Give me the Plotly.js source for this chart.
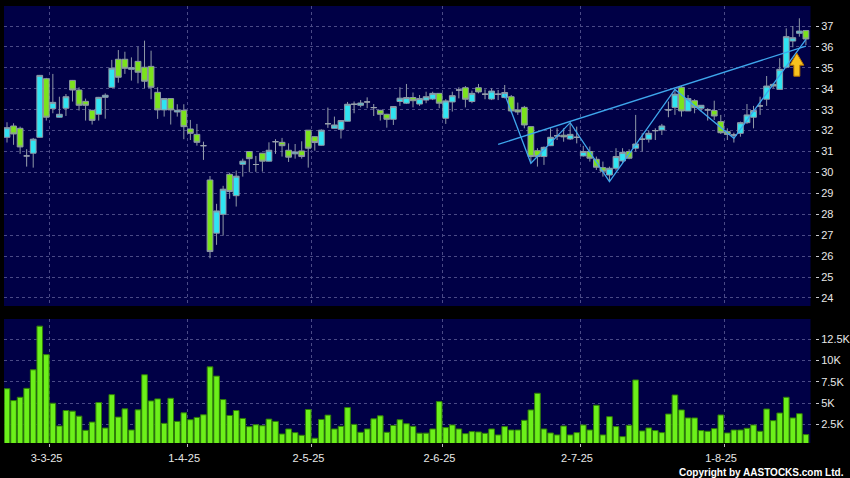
<!DOCTYPE html>
<html><head><meta charset="utf-8">
<script src="https://cdn.plot.ly/plotly-3.0.1.min.js"></script>
<style>html,body{margin:0;padding:0;background:#000;}#chart{width:850px;height:478px;}</style>
</head><body><div id="chart"></div>
<script>
// ---------- DATA (2025 trading days) ----------
const dates = [
"02-20","02-21","02-24","02-25","02-26","02-27","02-28",
"03-03","03-04","03-05","03-06","03-07","03-10","03-11","03-12","03-13","03-14","03-17","03-18","03-19","03-20","03-21","03-24","03-25","03-26","03-27","03-28","03-31",
"04-01","04-02","04-03","04-07","04-08","04-09","04-10","04-11","04-14","04-15","04-16","04-17","04-22","04-23","04-24","04-25","04-28","04-29","04-30",
"05-02","05-06","05-07","05-08","05-09","05-12","05-13","05-14","05-15","05-16","05-19","05-20","05-21","05-22","05-23","05-26","05-27","05-28","05-29","05-30",
"06-02","06-03","06-04","06-05","06-06","06-09","06-10","06-11","06-12","06-13","06-16","06-17","06-18","06-19","06-20","06-23","06-24","06-25","06-26","06-27","06-30",
"07-02","07-03","07-04","07-07","07-08","07-09","07-10","07-11","07-14","07-15","07-16","07-17","07-18","07-21","07-22","07-23","07-24","07-25","07-28","07-29","07-30","07-31",
"08-01","08-04","08-05","08-06","08-07","08-08","08-11","08-12","08-13","08-14","08-15","08-18","08-19"];

const openP = [31.68,32.22,32.11,30.79,30.92,31.68,34.48,33.05,32.64,33.07,34.40,33.94,33.40,32.97,32.78,33.59,34.07,35.41,35.41,34.93,
35.31,35.03,35.07,33.83,32.99,33.53,32.89,32.97,32.08,31.82,31.28,29.64,27.10,28.00,29.91,28.89,30.39,31.00,30.38,30.92,
30.54,31.47,31.44,31.06,30.89,31.03,32.02,31.71,31.30,32.33,32.11,32.06,32.45,33.26,33.21,33.37,33.10,32.97,32.78,32.54,
33.39,33.31,33.58,33.27,33.46,33.51,33.78,32.59,33.37,33.94,34.05,33.39,34.05,33.74,33.51,33.74,33.58,33.62,32.99,33.11,
32.19,31.04,30.76,31.28,31.75,31.78,31.60,31.68,30.79,31.00,30.63,30.23,29.88,30.20,30.55,31.00,31.16,31.59,31.59,32.00,
32.03,32.99,33.11,34.07,32.94,33.43,33.07,32.99,32.96,32.43,31.95,31.79,31.87,32.38,32.64,33.18,33.50,34.21,33.97,35.03,
36.28,36.65,36.78];
const highP = [32.40,32.35,32.19,31.11,31.65,34.66,34.52,34.71,33.62,33.75,34.42,34.07,33.53,32.99,33.61,33.78,35.38,35.85,35.77,35.50,
36.01,36.30,35.82,34.07,33.55,33.55,33.26,33.26,32.51,32.32,31.47,29.83,28.50,29.36,29.99,30.09,30.66,31.00,30.79,30.93,
31.44,31.59,31.65,31.39,31.36,31.49,32.02,31.73,32.06,33.10,32.67,32.50,33.37,33.39,33.46,33.59,33.27,32.99,32.80,33.17,
34.07,34.23,33.82,33.70,33.86,33.86,33.78,33.50,33.86,34.07,34.13,33.91,34.23,33.97,34.02,33.94,34.18,33.70,33.34,33.18,
32.19,31.16,31.24,32.11,32.11,32.11,32.38,32.19,31.27,31.24,30.76,30.52,30.28,31.16,31.16,31.11,32.75,31.87,32.00,32.11,
32.32,33.39,34.00,34.13,33.70,33.50,33.21,33.07,33.43,32.75,32.11,31.90,32.43,33.27,33.18,33.62,34.61,34.26,35.46,36.89,
37.00,37.37,36.81];
const lowP = [31.43,31.32,30.89,30.28,30.23,31.66,32.48,32.83,32.62,32.70,33.39,32.96,32.48,32.29,32.48,32.57,34.05,34.29,34.71,34.39,
34.26,34.02,33.50,32.56,32.67,32.29,32.67,31.59,31.55,31.28,30.60,25.90,26.54,26.98,28.74,28.37,29.80,30.01,30.03,30.04,
30.52,30.89,30.76,30.50,30.66,30.66,30.23,31.04,31.28,32.13,32.10,31.62,32.44,32.83,33.11,33.07,32.70,32.48,32.14,32.27,
33.18,33.27,33.11,33.18,33.31,33.46,33.07,32.32,32.91,33.54,33.11,33.31,33.78,33.50,33.46,33.46,33.54,32.86,32.75,32.11,
30.44,30.28,30.36,31.26,31.55,31.47,31.55,31.39,30.76,30.52,30.12,29.80,29.56,30.09,30.44,30.63,31.00,31.00,31.43,31.55,
31.79,32.64,32.75,32.67,32.94,32.83,32.91,32.48,32.51,31.84,31.55,31.43,31.71,32.32,32.11,32.75,33.18,34.02,33.95,34.98,
35.98,36.49,36.09];
const closeP = [32.14,31.84,31.22,30.79,31.59,34.64,32.64,33.35,32.78,33.62,33.94,33.21,33.21,32.49,33.59,33.69,34.98,34.55,34.98,35.01,
34.79,34.36,34.07,32.99,33.53,32.99,32.97,32.19,31.87,31.44,31.28,26.22,28.16,29.20,29.09,29.82,30.54,30.66,30.38,30.54,
31.06,31.47,31.28,30.73,30.98,30.76,31.16,31.43,32.02,32.33,32.27,32.48,33.26,33.26,33.32,33.37,33.10,32.78,32.54,33.15,
33.55,33.58,33.43,33.53,33.62,33.78,33.31,33.42,33.67,33.94,33.50,33.78,33.85,33.74,33.89,33.74,33.82,32.94,32.89,32.27,
30.76,30.76,31.20,31.68,31.75,31.70,31.82,31.68,31.00,30.68,30.25,30.06,30.20,30.76,30.96,30.68,31.36,31.59,31.87,32.00,
32.22,32.99,33.74,32.94,33.53,33.10,33.21,32.99,32.70,31.90,31.82,31.79,32.38,32.75,32.96,33.18,34.13,34.13,34.93,36.49,
36.44,36.76,36.38];
// volume in thousands
const volumeK = [6.69,5.29,5.68,6.73,8.91,14.05,10.70,4.98,2.30,4.12,4.05,3.46,1.79,2.76,5.06,2.06,5.99,3.35,4.32,1.83,
4.20,8.33,5.25,5.49,2.61,5.56,2.84,3.85,3.04,3.31,3.62,9.26,8.17,5.41,3.54,4.12,3.19,2.22,2.45,2.33,
3.11,2.84,1.36,1.95,1.52,1.21,4.24,0.86,3.07,3.58,1.95,2.26,4.47,2.49,1.56,1.95,3.15,3.50,1.56,2.37,
3.04,2.57,2.26,1.46,1.46,1.95,5.17,2.11,2.42,1.95,1.40,1.64,1.60,1.44,1.95,1.25,2.23,1.83,1.83,2.97,
4.19,6.15,1.95,1.48,1.25,2.30,1.25,1.52,2.42,1.83,4.74,1.25,3.40,2.23,1.05,2.38,7.72,1.72,2.07,1.76,
1.52,3.71,5.95,4.19,3.25,3.25,1.76,1.68,1.99,3.60,1.48,1.83,1.83,2.03,2.42,1.68,4.30,2.93,3.83,5.68,
3.25,3.75,1.29];

const tickDates = ["03-03","04-01","05-02","06-02","07-02","08-01"];
const tickText  = ["3-3-25","1-4-25","2-5-25","2-6-25","2-7-25","1-8-25"];
const priceTicks = [24,25,26,27,28,29,30,31,32,33,34,35,36,37];
const volTicks = [2.5,5,7.5,10,12.5];
const volTickText = ["2.5K","5K","7.5K","10K","12.5K"];

// drawn pattern lines
const zigzagDates = ["06-13","06-19","06-27","07-08","07-22","08-04","08-19"];
const zigzagPrice = [33.74,30.44,32.38,29.56,33.97,31.63,36.36];
const trendDates = ["06-12","08-19"];
const trendPrice = [31.34,36.04];
const arrowDate = "08-15";
const arrowTipPrice = 35.70;

// ---------- BUILD ----------
const pos = d => dates.indexOf(d);
const groups = {up:[], down:[], flat:[]};
dates.forEach((d,i)=>{
  const k = closeP[i] > openP[i] ? 'up' : (closeP[i] < openP[i] ? 'down' : 'flat');
  groups[k].push(i);
});
const WICK = '#8e98a6';
function candle(list, fill, line){
  const side = {fillcolor: fill, line:{color: line, width: 1}};
  return {type:'candlestick', xaxis:'x', yaxis:'y', x:list,
    open:list.map(i=>openP[i]), high:list.map(i=>highP[i]),
    low:list.map(i=>lowP[i]), close:list.map(i=>closeP[i]),
    increasing: side, decreasing: side, whiskerwidth:0, hoverinfo:'x+y'};
}
const GRID = '#4a4a86';
const gridX = tickDates.map(d => pos(d) - 0.5);
const xr = [-0.46, 122.7];

const traces = [
  candle(groups.up, '#2fe4f2', WICK),
  candle(groups.down, '#7be31c', WICK),
  candle(groups.flat, '#9aa2ae', '#9aa2ae'),
  {type:'scatter', mode:'lines', xaxis:'x', yaxis:'y', x:trendDates.map(pos), y:trendPrice,
   line:{color:'#3ea6ec', width:1.3}, hoverinfo:'skip'},
  {type:'scatter', mode:'lines', xaxis:'x', yaxis:'y', x:zigzagDates.map(pos), y:zigzagPrice,
   line:{color:'#3ea6ec', width:1.3}, hoverinfo:'skip'},
  {type:'bar', xaxis:'x2', yaxis:'y2', x:dates.map((d,i)=>i), y:volumeK, width:0.86,
   marker:{color:'#6cf01a', line:{color:'#2f7d08', width:1}}, hoverinfo:'y'}
];

const layout = {
  width:850, height:478, margin:{l:0,r:0,t:0,b:0},
  paper_bgcolor:'#000000', plot_bgcolor:'#000046', showlegend:false,
  boxgap:0.12, boxgroupgap:0,
  font:{family:'Liberation Sans, Arial, sans-serif', size:11, color:'#e8e8e8'},
  xaxis:{domain:[4/850, 810.5/850], range:xr, anchor:'y', rangeslider:{visible:false},
    tickvals:gridX, showticklabels:false, ticks:'', showgrid:true, gridcolor:GRID, griddash:'3px,3px',
    gridwidth:1, zeroline:false, showline:false},
  xaxis2:{domain:[4/850, 810.5/850], range:xr, anchor:'y2', tickvals:gridX, ticktext:tickText,
    ticks:'outside', ticklen:3, tickcolor:'#bbbbbb', ticklabelshift:-3, ticklabelstandoff:2,
    showgrid:true, gridcolor:GRID, griddash:'3px,3px', zeroline:false, showline:false,
    tickfont:{size:11, color:'#e8e8e8'}},
  yaxis:{domain:[172/478, 472/478], range:[23.617, 37.956], side:'right', anchor:'free', position:815/850,
    tickvals:priceTicks, ticks:'outside', ticklen:3, tickcolor:'#cccccc', showgrid:true, gridcolor:GRID,
    griddash:'3px,3px', zeroline:false, showline:false, tickfont:{size:11, color:'#e8e8e8'}},
  yaxis2:{domain:[35/478, 159/478], range:[0.30, 14.89], side:'right', anchor:'free', position:815/850,
    tickvals:volTicks, ticktext:volTickText, ticks:'outside', ticklen:3, tickcolor:'#cccccc',
    showgrid:true, gridcolor:GRID, griddash:'3px,3px', zeroline:false, showline:false,
    tickfont:{size:11, color:'#e8e8e8'}},
  shapes:[{type:'path', xref:'x', yref:'y', xsizemode:'pixel', ysizemode:'pixel',
    xanchor:pos(arrowDate), yanchor:arrowTipPrice,
    path:'M4,0 L11,-12 L7,-12 L7,-23 L1,-23 L1,-12 L-3,-12 Z',
    fillcolor:'#f7c21e', line:{color:'#b87400', width:1}}],
  annotations:[{xref:'paper', yref:'paper', x:846/850, y:6/478, xanchor:'right', yanchor:'middle',
    text:'<b>Copyright by AASTOCKS.com Ltd.</b>', showarrow:false,
    font:{size:10, color:'#ffffff', family:'Liberation Sans, Arial, sans-serif'}}]
};
Plotly.newPlot('chart', traces, layout, {displayModeBar:false, staticPlot:true});
</script></body></html>
